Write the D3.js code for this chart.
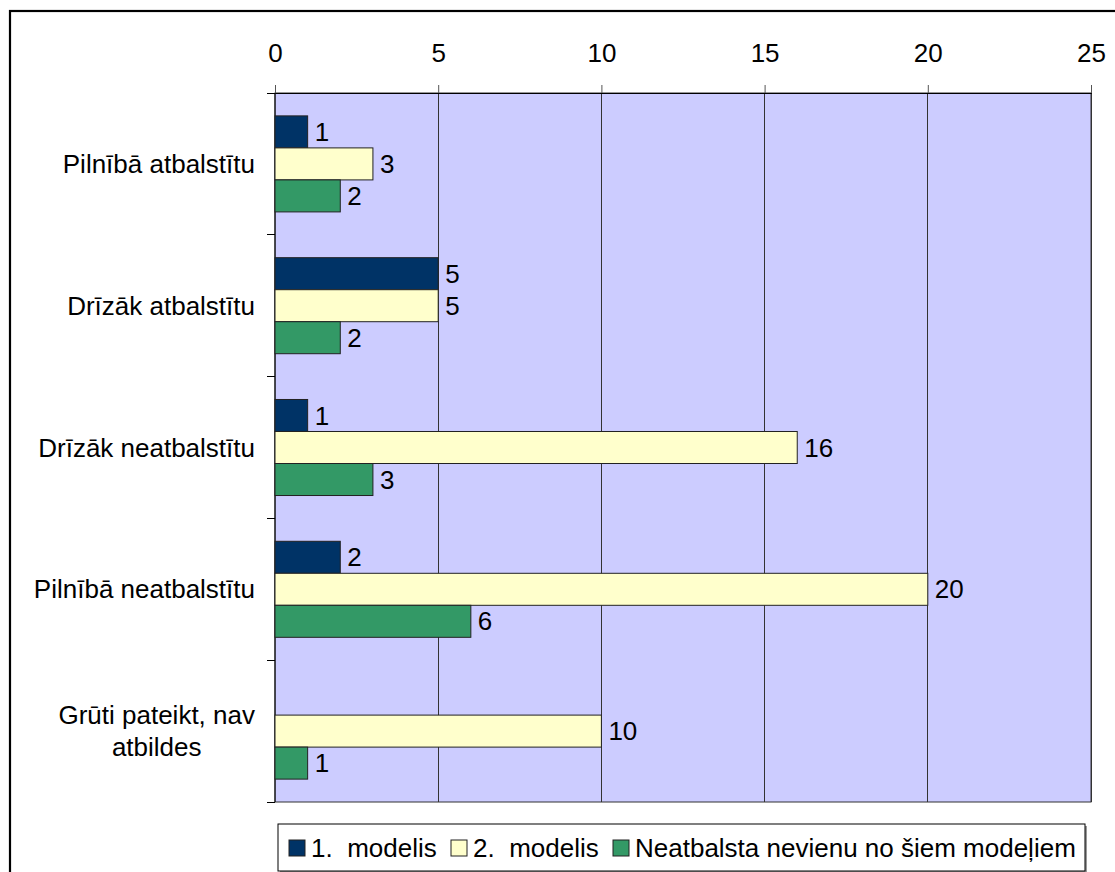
<!DOCTYPE html>
<html><head><meta charset="utf-8">
<script src="https://cdn.jsdelivr.net/npm/d3@7"></script>
<style>
html,body{margin:0;padding:0;background:#fff;}
svg{display:block;font-family:"Liberation Sans",Arial,sans-serif;}
</style></head>
<body>
<svg id="chart" width="1115" height="872"></svg>
<script>
const categories = [["Pilnībā atbalstītu"],["Drīzāk atbalstītu"],["Drīzāk neatbalstītu"],["Pilnībā neatbalstītu"],["Grūti pateikt, nav","atbildes"]];
const seriesNames = ["1.  modelis","2.  modelis","Neatbalsta nevienu no šiem modeļiem"];
const model1 = [1,5,1,2,null];
const model2 = [3,5,16,20,10];
const noneModel = [2,2,3,6,1];
const xTicks = [0,5,10,15,20,25];
const colors = ["#003366","#FFFFCC","#339966"];

(function(){
const FS = 26;
const seriesValues = [model1, model2, noneModel];
const svg = d3.select("#chart");

// outer frame
svg.append("rect").attr("x",10).attr("y",11).attr("width",1130).attr("height",900)
  .attr("fill","#fff").attr("stroke","#000").attr("stroke-width",2.2);

const pL=275, pR=1091, pT=93, pB=802;
const x = d3.scaleLinear().domain([0,25]).range([pL,pR]);
const catIdx = categories.map((d,i)=>i);
const y0 = d3.scaleBand().domain(catIdx).range([pT,pB]).padding(0);
const y1 = d3.scaleBand().domain([0,1,2]).range([0,y0.bandwidth()]).paddingInner(0).paddingOuter(0.715);

// plot area
svg.append("rect").attr("x",pL).attr("y",pT).attr("width",pR-pL).attr("height",pB-pT)
  .attr("fill","#CCCCFF").attr("stroke","#333").attr("stroke-width",1);

// grid lines
svg.append("g").selectAll("line").data(xTicks.slice(1)).join("line")
  .attr("x1",d=>x(d)).attr("x2",d=>x(d)).attr("y1",pT).attr("y2",pB)
  .attr("stroke","#333").attr("stroke-width",1).attr("shape-rendering","crispEdges");

// top axis
const xAxis = d3.axisTop(x).tickValues(xTicks).tickSize(8).tickPadding(23).tickFormat(d3.format("d"));
const gx = svg.append("g").attr("transform",`translate(0,${pT})`).call(xAxis);
gx.attr("font-size",FS).attr("font-family","Liberation Sans, Arial, sans-serif");
gx.select(".domain").attr("stroke","#000");
gx.selectAll(".tick line").attr("stroke","#555");
gx.selectAll("text").attr("fill","#000");

// left axis line with ticks at band boundaries
svg.append("line").attr("x1",pL).attr("x2",pL).attr("y1",pT).attr("y2",pB).attr("stroke","#000");
const bounds = catIdx.map(i=>y0(i)).concat([pB]);
svg.append("g").selectAll("line").data(bounds).join("line")
  .attr("x1",pL-8).attr("x2",pL).attr("y1",d=>d).attr("y2",d=>d)
  .attr("stroke","#000").attr("shape-rendering","crispEdges");

// category labels
categories.forEach((lines,i)=>{
  const cy = y0(i)+y0.bandwidth()/2;
  const t = svg.append("text").attr("font-size",FS).attr("fill","#000");
  if(lines.length===1){
    t.attr("x",255).attr("y",cy).attr("dy","0.35em").attr("text-anchor","end").text(lines[0]);
  } else {
    const tmp = svg.append("text").attr("font-size",FS).text(lines[0]);
    const w = tmp.node().getComputedTextLength(); tmp.remove();
    const cx = 255 - w/2;
    lines.forEach((ln,k)=>{
      t.append("tspan").attr("x",cx).attr("y",cy + (k-(lines.length-1)/2)*32).attr("dy","0.35em")
        .attr("text-anchor","middle").text(ln);
    });
  }
});

// bars
seriesValues.forEach((vals,s)=>{
  const g = svg.append("g");
  const data = vals.map((v,i)=>({v,i})).filter(d=>d.v!==null);
  g.selectAll("rect").data(data).join("rect")
    .attr("x",x(0)).attr("y",d=>y0(d.i)+y1(s)).attr("width",d=>x(d.v)-x(0)).attr("height",y1.bandwidth())
    .attr("fill",colors[s]).attr("stroke","#222").attr("stroke-width",1);
  g.selectAll("text").data(data).join("text")
    .attr("x",d=>x(d.v)+7).attr("y",d=>y0(d.i)+y1(s)+y1.bandwidth()/2).attr("dy","0.35em")
    .attr("font-size",FS).attr("fill","#000").text(d=>d.v);
});

// legend
const lg = svg.append("g");
lg.append("rect").attr("x",280).attr("y",826).attr("width",807).attr("height",47).attr("fill","#999");
lg.append("rect").attr("x",278).attr("y",824).attr("width",807).attr("height",47).attr("fill","#fff").attr("stroke","#000").attr("stroke-width",1);
const legX = [289, 451, 613];
seriesNames.forEach((n,s)=>{
  lg.append("rect").attr("x",legX[s]).attr("y",840).attr("width",16).attr("height",16)
    .attr("fill",colors[s]).attr("stroke","#222");
  lg.append("text").attr("x",legX[s]+22).attr("y",848).attr("dy","0.35em").attr("font-size",FS)
    .attr("fill","#000").style("white-space","pre").text(n);
});
})();
</script>
</body></html>
